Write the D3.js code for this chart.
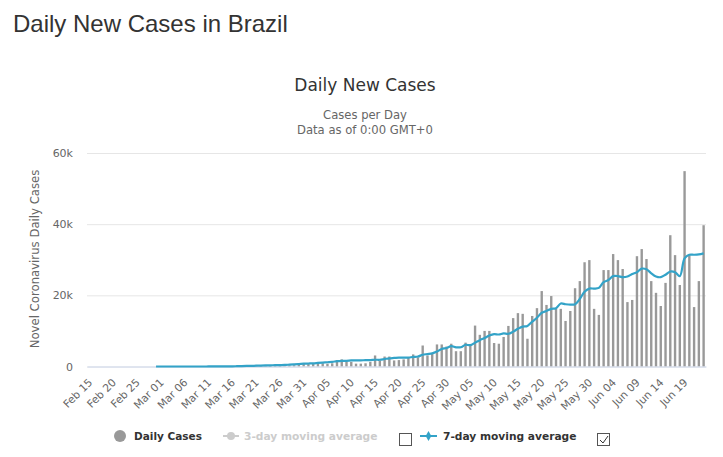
<!DOCTYPE html>
<html>
<head>
<meta charset="utf-8">
<script src="https://d3js.org/d3.v7.min.js"></script>
<style>
html, body { margin: 0; padding: 0; background: #fff; overflow: hidden; }
svg { display: block; }
text { font-family: "DejaVu Sans", sans-serif; }
</style>
</head>
<body>
<div id="chart"></div>
<script>
var width = 723,
    height = 457;

var firstDay = new Date(2020, 1, 15);

var dailyCases = [
    0, 0, 0, 0, 0, 0, 0, 0, 0, 0, 0, 0, 0, 0,
    1, 0, 1, 0, 2, 5, 6, 6, 9, 18, 25, 21, 23, 79, 34,
    57, 137, 193, 283, 224, 418, 345, 310, 232, 400, 420, 430, 352, 323, 350, 500,
    700, 700, 800, 900, 900, 800, 900, 1800, 2000, 1400, 1300, 800, 800, 900, 1300,
    3100, 1700, 2800, 2800, 1700, 1800, 2000, 2400, 3400, 2600, 5900, 3100, 3600, 6200, 6200,
    5600, 6400, 4300, 4300, 6700, 6100, 11500,
    8900, 10000, 10000, 6600, 6400, 8300, 11400, 13600, 15000, 14800,
    7800, 14200, 16400, 21200, 17300, 19800, 16200, 16200, 12800, 15600,
    22000, 24000, 29300, 29900, 16200, 14500, 27100, 27100, 31600, 29900,
    27400, 18100, 18700, 31000, 33000, 30200, 24000, 20700, 17000, 23500,
    36900, 31300, 22900, 54900, 31300, 16700, 24000, 39700
];

var movingAvg7 = [
    null, null, null, null, null, null, null, null, null, null, null, null, null, null,
    0, 0, 0, 0, 1, 1, 2, 3, 3, 4, 5, 8, 10, 13, 25,
    30, 50, 80, 110, 150, 170, 220, 260, 300, 330, 370, 400, 430, 520, 620, 700,
    800, 850, 900, 1000, 1100, 1200, 1300, 1500, 1600, 1600, 1700, 1700, 1700, 1800, 1800,
    1900, 1900, 2100, 2300, 2400, 2500, 2500, 2500, 2700, 2800, 3300, 3500, 3700, 4200, 4900,
    5200, 5700, 5400, 5400, 6100, 6000, 6700,
    7400, 8000, 8700, 9100, 9000, 9300, 9200, 9800, 10600, 11200,
    11400, 12600, 13700, 15100, 15600, 16200, 16400, 17700, 17500, 17400,
    17500, 19000, 21000, 21900, 21900, 22100, 23700, 24300, 25400, 25400,
    25100, 25300, 26000, 26500, 27500, 27300, 26200, 25300, 25100, 25800,
    26700, 26500, 25400, 30400, 31400, 31400, 31500, 31800
];

var yTicks = [0, 20000, 40000, 60000];
var yTickLabels = ["0", "20k", "40k", "60k"];

var days = dailyCases.map(function(d, i) { return d3.timeDay.offset(firstDay, i); });
var xTicks = days.filter(function(d, i) { return i % 5 === 0; });
var formatDay = d3.timeFormat("%b %d");

var margin = { top: 153, right: 17, bottom: 90.5, left: 87 };

var svg = d3.select("#chart").append("svg")
    .attr("width", width)
    .attr("height", height);

var x = d3.scaleBand()
    .domain(days)
    .range([margin.left, width - margin.right])
    .paddingInner(0.5)
    .paddingOuter(0.25);

var y = d3.scaleLinear()
    .domain([0, 60000])
    .range([height - margin.bottom, margin.top]);

function xMid(d) { return x(d) + x.bandwidth() / 2; }

// page heading and chart titles
svg.append("text")
    .attr("x", 13)
    .attr("y", 32)
    .style("font-family", "'Liberation Sans', Arial, sans-serif")
    .style("font-size", "24px")
    .style("fill", "#333")
    .text("Daily New Cases in Brazil");

svg.append("text")
    .attr("x", 365)
    .attr("y", 91)
    .attr("text-anchor", "middle")
    .style("font-size", "17px")
    .style("fill", "#333")
    .text("Daily New Cases");

svg.append("text")
    .attr("x", 365)
    .attr("y", 119)
    .attr("text-anchor", "middle")
    .style("font-size", "11.6px")
    .style("fill", "#666")
    .text("Cases per Day");

svg.append("text")
    .attr("x", 365)
    .attr("y", 134)
    .attr("text-anchor", "middle")
    .style("font-size", "11.6px")
    .style("fill", "#666")
    .text("Data as of 0:00 GMT+0");

svg.append("text")
    .attr("transform", "translate(39,259) rotate(-90)")
    .attr("text-anchor", "middle")
    .style("font-size", "11.7px")
    .style("fill", "#666")
    .text("Novel Coronavirus Daily Cases");

// y axis with gridlines
var yAxis = d3.axisLeft(y)
    .tickValues(yTicks)
    .tickFormat(function(d, i) { return yTickLabels[i]; })
    .tickSize(-(width - margin.left - margin.right))
    .tickPadding(14);

var yG = svg.append("g")
    .attr("transform", "translate(" + margin.left + ",0)")
    .call(yAxis);
yG.select(".domain").remove();
yG.selectAll(".tick line").attr("stroke", "#e6e6e6");
yG.selectAll(".tick text")
    .style("font-size", "11px")
    .style("font-family", "'DejaVu Sans', sans-serif")
    .style("fill", "#666");

// bars
svg.append("g").selectAll("rect")
    .data(dailyCases)
    .enter().append("rect")
    .attr("x", function(d, i) { return x(days[i]); })
    .attr("y", function(d) { return y(d); })
    .attr("width", x.bandwidth())
    .attr("height", function(d) { return y(0) - y(d); })
    .attr("fill", "#999");

// x axis
var xAxis = d3.axisBottom(x)
    .tickValues(xTicks)
    .tickFormat(formatDay)
    .tickSize(0);

var xG = svg.append("g")
    .attr("transform", "translate(0," + y(0) + ")")
    .call(xAxis);
xG.select(".domain").attr("stroke", "#ccd6eb");
xG.selectAll(".tick text")
    .attr("x", 0)
    .attr("y", 0)
    .attr("text-anchor", "end")
    .attr("dy", "0.35em")
    .attr("transform", "translate(1,14) rotate(-45)")
    .style("font-size", "10.7px")
    .style("font-family", "'DejaVu Sans', sans-serif")
    .style("fill", "#666");

// 7-day moving average
var line = d3.line()
    .defined(function(d) { return d !== null; })
    .x(function(d, i) { return xMid(days[i]); })
    .y(function(d) { return y(d); })
    .curve(d3.curveCatmullRom);

svg.append("path")
    .datum(movingAvg7)
    .attr("d", line)
    .attr("fill", "none")
    .attr("stroke", "#33a3c8")
    .attr("stroke-width", 2.2);

// legend
var legendY = 436;

svg.append("circle")
    .attr("cx", 120).attr("cy", legendY).attr("r", 6)
    .attr("fill", "#999");

svg.append("text")
    .attr("x", 134).attr("y", legendY + 4)
    .style("font-size", "10.5px").style("font-weight", "bold").style("fill", "#333")
    .text("Daily Cases");

svg.append("line")
    .attr("x1", 223).attr("x2", 239).attr("y1", legendY).attr("y2", legendY)
    .attr("stroke", "#ccc").attr("stroke-width", 2);
svg.append("circle")
    .attr("cx", 231).attr("cy", legendY).attr("r", 4)
    .attr("fill", "#ccc");

svg.append("text")
    .attr("x", 244).attr("y", legendY + 4)
    .style("font-size", "10.65px").style("font-weight", "bold").style("fill", "#ccc")
    .text("3-day moving average");

svg.append("rect")
    .attr("x", 399.5).attr("y", 433.5).attr("width", 12).attr("height", 12)
    .attr("fill", "#fff").attr("stroke", "#555");

svg.append("line")
    .attr("x1", 420).attr("x2", 437).attr("y1", legendY).attr("y2", legendY)
    .attr("stroke", "#33a3c8").attr("stroke-width", 2);
svg.append("path")
    .attr("transform", "translate(428.5," + legendY + ")")
    .attr("d", d3.symbol(d3.symbolDiamond, 28))
    .attr("fill", "#33a3c8");

svg.append("text")
    .attr("x", 443).attr("y", legendY + 4)
    .style("font-size", "10.65px").style("font-weight", "bold").style("fill", "#333")
    .text("7-day moving average");

svg.append("rect")
    .attr("x", 597.5).attr("y", 433.5).attr("width", 12).attr("height", 12)
    .attr("fill", "#fff").attr("stroke", "#555");
svg.append("path")
    .attr("d", "M600 440 L603 443 L608 436")
    .attr("fill", "none").attr("stroke", "#333").attr("stroke-width", 1);
</script>
</body>
</html>
